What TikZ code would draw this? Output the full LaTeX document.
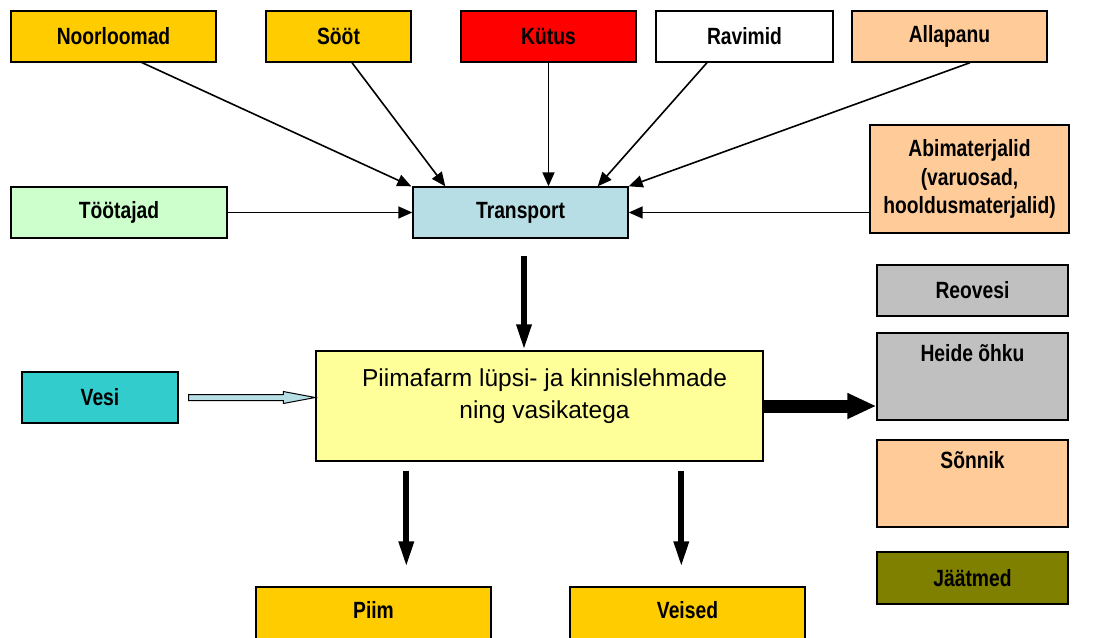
\documentclass[tikz,border=0pt]{standalone}
\usepackage{fontspec}
\setmainfont{Liberation Sans}
\newfontfamily\narr{Liberation Sans}[FakeStretch=0.82]
\usetikzlibrary{arrows.meta,calc}
\definecolor{gold}{HTML}{FFCC00}
\definecolor{kred}{HTML}{FF0000}
\definecolor{peach}{HTML}{FFCC99}
\definecolor{mint}{HTML}{CCFFCC}
\definecolor{lblue}{RGB}{183,222,228}
\definecolor{grey}{HTML}{C0C0C0}
\definecolor{olive}{HTML}{808000}
\definecolor{teal}{HTML}{33CCCC}
\definecolor{lyellow}{HTML}{FFFF99}
\begin{document}
\begin{tikzpicture}[x=1pt,y=-1pt,
  box/.style={draw=black, line width=1.4pt, inner sep=0pt, align=center,
    font=\narr\bfseries\fontsize{23.5}{28.5}\selectfont},
  toplbl/.style={font=\narr\bfseries\fontsize{23.5}{28.5}\selectfont, anchor=north, yshift=-9pt},
  thin/.style={line width=1.6pt, -{Triangle[length=14pt,width=12pt]}},
  thick/.style={line width=6pt, -{Triangle[length=26pt,width=14pt]}},
  fat/.style={line width=13pt, -{Triangle[length=29pt,width=24pt]}}]
\useasboundingbox (0,0) rectangle (1099,637);
% top row
\node[box, fill=gold, minimum width=205, minimum height=51] (noor) at (113.5,36.5) {Noorloomad};
\node[box, fill=gold, minimum width=145, minimum height=51] (soot) at (338.5,36.5) {Sööt};
\node[box, fill=kred, minimum width=175, minimum height=51] (kutus) at (548.5,36.5) {Kütus};
\node[box, fill=white, minimum width=177, minimum height=51] (ravi) at (744.5,36.5) {Ravimid};
\node[box, fill=peach, minimum width=195, minimum height=51] (alla) at (949.5,36.5) {Allapanu};
% second row
\node[box, fill=mint, minimum width=216, minimum height=51] (toot) at (119,212.5) {Töötajad};
\node[box, fill=lblue, minimum width=215, minimum height=51] (trans) at (520.5,212.5) {Transport};
\node[box, fill=peach, minimum width=199, minimum height=108] (abim) at (969.5,179) {Abimaterjalid\\(varuosad,\\hooldusmaterjalid)};
% right column
\node[box, fill=grey, minimum width=191, minimum height=51] (reo) at (972.5,290.5) {Reovesi};
\node[box, fill=grey, minimum width=191, minimum height=87,
  label={[toplbl]north:Heide õhku}] (heide) at (972.5,376.5) {};
\node[box, fill=peach, minimum width=191, minimum height=87,
  label={[toplbl]north:Sõnnik}] (sonnik) at (972.5,483.5) {};
\node[box, fill=olive, minimum width=191, minimum height=52] (jaat) at (972.5,578) {Jäätmed};
% middle
\node[box, fill=teal, minimum width=156, minimum height=51] (vesi) at (100,397.5) {Vesi};
\node[box, fill=lyellow, minimum width=447, minimum height=110,
  label={[anchor=north, yshift=-15pt, align=center, xshift=5pt,
    font=\fontsize{24.5}{32}\selectfont]north:Piimafarm lüpsi- ja kinnislehmade\\ning vasikatega}] (farm) at (539.5,406) {};
% bottom
\node[box, fill=gold, minimum width=235, minimum height=61] (piim) at (373.5,617.5) {};
\node[font=\narr\bfseries\fontsize{23.5}{28.5}\selectfont] at (373.5,610) {Piim};
\node[box, fill=gold, minimum width=235, minimum height=61] (veised) at (687.5,617.5) {};
\node[font=\narr\bfseries\fontsize{23.5}{28.5}\selectfont] at (687.5,610) {Veised};
% thin arrows into Transport
\draw[thin] ($(noor.south)+(26.5,-1)$) -- ($(trans.north west)+(-1,0)$);
\draw[thin] ($(soot.south)+(13.5,0)$) -- ($(trans.north west)+(33,0)$);
\draw[thin] (kutus.south) -- (trans.north -| kutus.south);
\draw[thin] ($(ravi.south)+(-37.5,0)$) -- ($(trans.north east)+(-31,0)$);
\draw[thin] ($(alla.south)+(20.5,0)$) -- (trans.north east);
\draw[thin] (toot.east) -- (trans.west);
\draw[thin] (abim.west |- trans.east) -- (trans.east);
% thick arrows
\coordinate (tstart) at ($(trans.south)+(3.5,17)$);
\draw[thick] (tstart) -- (tstart |- farm.north);
\coordinate (ps) at ($(farm.south west)+(91,9)$);
\draw[thick, shorten >=19pt] (ps) -- (ps |- piim.north);
\coordinate (vs) at ($(farm.south west)+(366,9)$);
\draw[thick, shorten >=19pt] (vs) -- (vs |- veised.north);
\draw[fat] (farm.east) -- (heide.west |- farm.east);
% Vesi block arrow
\coordinate (vtip) at (farm.west |- vesi.east);
\draw[fill=lblue, line width=1pt, line join=miter]
  ($(vesi.east)+(10,-3)$) -- ($(vtip)+(-32,-3)$) -- ($(vtip)+(-32,-6)$) -- (vtip)
  -- ($(vtip)+(-32,6)$) -- ($(vtip)+(-32,3)$) -- ($(vesi.east)+(10,3)$) -- cycle;
\end{tikzpicture}
\end{document}
